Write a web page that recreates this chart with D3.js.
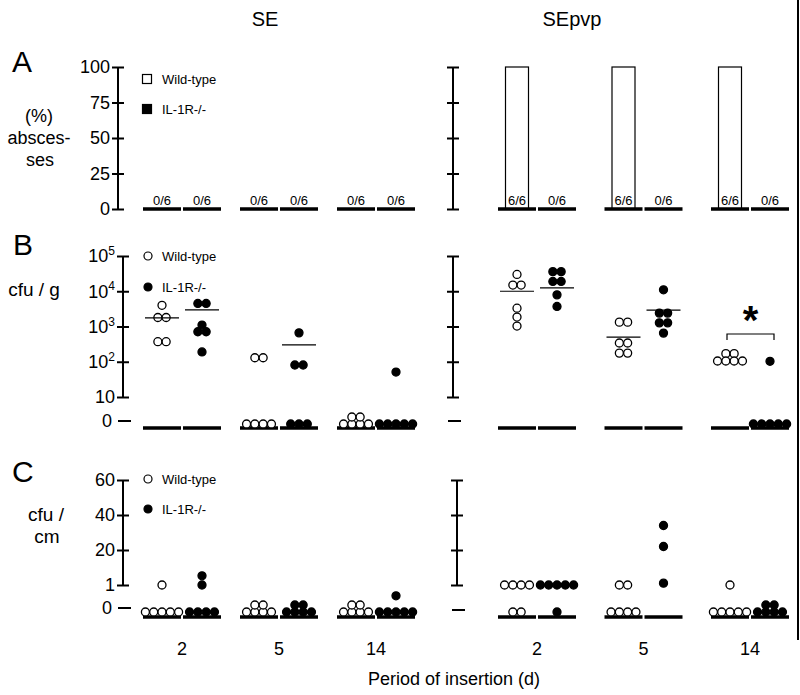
<!DOCTYPE html>
<html>
<head>
<meta charset="utf-8">
<script src="https://cdn.jsdelivr.net/npm/d3@7"></script>
<style>
body { margin: 0; background: #fff; }
svg { font-family: "Liberation Sans", Arial, sans-serif; }
</style>
</head>
<body>
<div id="chart"></div>
<script>
// categories
const days = ["2", "5", "14"];
const genotypes = ["Wild-type", "IL-1R-/-"];

// Panel A: % abscesses
const absSEwt = [0, 0, 0];
const absSEko = [0, 0, 0];
const absPvpWt = [100, 100, 100];
const absPvpKo = [0, 0, 0];
const fracSEwt = ["0/6", "0/6", "0/6"];
const fracSEko = ["0/6", "0/6", "0/6"];
const fracPvpWt = ["6/6", "6/6", "6/6"];
const fracPvpKo = ["0/6", "0/6", "0/6"];
const ticksA = [0, 25, 50, 75, 100];

// Panel B: cfu / g (one array of animals per day)
const cfuGSEwt = [[4000, 1800, 1800, 370, 370], [130, 130, 0, 0, 0, 0], [0, 0, 0, 0, 0, 0]];
const cfuGSEko = [[4500, 4500, 1100, 710, 710, 190], [660, 81, 81, 0, 0, 0], [51, 0, 0, 0, 0, 0]];
const cfuGPvpWt = [[30000, 15000, 15000, 3300, 1850, 1030], [1330, 1330, 340, 340, 176, 176], [170, 170, 105, 105, 105, 105]];
const cfuGPvpKo = [[36000, 36000, 19000, 19000, 7900, 3700], [11000, 2400, 2400, 1270, 1270, 650], [103, 0, 0, 0, 0, 0]];
const meanGSEwt = [1750, null, null];
const meanGSEko = [2950, 300, null];
const meanGPvpWt = [10000, 500, null];
const meanGPvpKo = [12500, 2900, null];
const ticksB = [10, 100, 1000, 10000, 100000];

// Panel C: cfu / cm
const cfuCmSEwt = [[1, 0, 0, 0, 0, 0], [0, 0, 0, 0, 0, 0], [0, 0, 0, 0, 0, 0]];
const cfuCmSEko = [[6, 1, 0, 0, 0, 0], [0, 0, 0, 0, 0, 0], [0.6, 0, 0, 0, 0, 0]];
const cfuCmPvpWt = [[1, 1, 1, 1, 0, 0], [1, 1, 0, 0, 0, 0], [1, 0, 0, 0, 0, 0]];
const cfuCmPvpKo = [[1, 1, 1, 1, 1, 0], [34, 22, 2], [0, 0, 0, 0, 0, 0]];
const ticksC = [1, 20, 40, 60];

const W = 800, H = 695;
const FONT = "'Liberation Sans', Arial, sans-serif";

const svg = d3.select("#chart").append("svg")
    .attr("width", W)
    .attr("height", H);

// x scales: one per side, plus genotype offset
const xSE = d3.scalePoint().domain(days).range([182, 376]);
const xPvp = d3.scalePoint().domain(days).range([537, 750]);
const gOff = d3.scaleOrdinal().domain(genotypes).range([-20, 20]);
const segHalf = 19;

// y scales
const yA = d3.scaleLinear().domain([0, 100]).range([209, 67]);
const yBlog = d3.scaleLog().domain([10, 1e5]).range([397, 256]);
const zeroB = 424;
const yB = v => v > 0 ? yBlog(v) : zeroB;
const yC = d3.scaleLinear().domain([0, 1, 20, 40, 60]).range([612, 585, 550, 515, 480]);

const baseA = 209, baseB = 428, baseC = 617;

function txt(x, y, s, size, anchor) {
    return svg.append("text")
        .attr("x", x).attr("y", y)
        .attr("font-size", size)
        .attr("text-anchor", anchor || "start")
        .attr("fill", "#000")
        .text(s);
}

// titles
txt(265, 26, "SE", 20, "middle");
txt(572, 26, "SEpvp", 20, "middle");
txt(12, 72, "A", 30);
txt(13, 255, "B", 30);
txt(12, 482, "C", 30);

txt(39, 122, "(%)", 18, "middle");
txt(39, 144, "absces-", 18, "middle");
txt(40, 166, "ses", 18, "middle");
txt(34, 296, "cfu / g", 19, "middle");
txt(46, 521, "cfu /", 19, "middle");
txt(47, 543, "cm", 19, "middle");

// y axis with ticks crossing the line
function yAxis(x, scale, ticks, labels) {
    const g = svg.append("g").attr("transform", "translate(" + (x + 6) + ",0)");
    g.call(d3.axisLeft(scale).tickValues(ticks).tickSize(12).tickSizeOuter(0).tickPadding(2)
        .tickFormat(labels ? d3.format("d") : ""));
    g.select(".domain").remove();
    g.selectAll(".tick line").attr("stroke", "#000").attr("stroke-width", 2);
    g.selectAll(".tick text").attr("font-size", 18).attr("fill", "#000").attr("font-family", FONT);
    svg.append("line")
        .attr("x1", x).attr("x2", x)
        .attr("y1", scale(ticks[0])).attr("y2", scale(ticks[ticks.length - 1]))
        .attr("stroke", "#000").attr("stroke-width", 2);
    return g;
}

function zeroTick(x, y, label) {
    svg.append("line")
        .attr("x1", x - 5).attr("x2", x + 8)
        .attr("y1", y).attr("y2", y)
        .attr("stroke", "#000").attr("stroke-width", 2);
    if (label) txt(x - 11, y + 6, "0", 18, "end");
}

yAxis(118, yA, ticksA, true);
yAxis(453, yA, ticksA, false);

const axB = yAxis(123, yBlog, ticksB, true);
axB.selectAll(".tick text").each(function(d) {
    const t = d3.select(this);
    const e = Math.round(Math.log10(d));
    t.text("");
    t.append("tspan").text("10");
    if (e > 1) t.append("tspan").attr("dy", "-0.6em").attr("font-size", 12).text(e);
});
yAxis(453, yBlog, ticksB, false);
zeroTick(123, 421, true);
zeroTick(453, 421, false);

yAxis(123, yC, ticksC, true);
yAxis(457, yC, ticksC, false);
zeroTick(123, 608, true);
zeroTick(457, 610, false);

// legends
function legend(y1, y2, shape) {
    [[y1, "#fff", genotypes[0]], [y2, "#000", genotypes[1]]].forEach(([y, f, s]) => {
        if (shape === "square") {
            svg.append("rect").attr("x", 142.5).attr("y", y - 4.5).attr("width", 9).attr("height", 9)
                .attr("fill", f).attr("stroke", "#000").attr("stroke-width", 1.2);
        } else {
            svg.append("circle").attr("cx", 148).attr("cy", y).attr("r", 4)
                .attr("fill", f).attr("stroke", "#000").attr("stroke-width", 1.2);
        }
        txt(162, y + 5, s, 13);
    });
}
legend(79, 109, "square");
legend(256, 287, "circle");
legend(479, 509, "circle");

// base segments for every group
function baseLines(xs, y) {
    days.forEach(d => genotypes.forEach(gt => {
        const cx = xs(d) + gOff(gt);
        svg.append("line")
            .attr("x1", cx - segHalf).attr("x2", cx + segHalf)
            .attr("y1", y).attr("y2", y)
            .attr("stroke", "#000").attr("stroke-width", 3.5);
    }));
}

// Panel A bars
function barsA(xs, wt, ko, fwt, fko) {
    [[genotypes[0], wt, fwt], [genotypes[1], ko, fko]].forEach(([gt, vals, fr]) => {
        days.forEach((d, i) => {
            const cx = xs(d) + gOff(gt);
            if (vals[i] > 0) {
                svg.append("rect")
                    .attr("x", cx - 11.5).attr("width", 23)
                    .attr("y", yA(vals[i])).attr("height", yA(0) - yA(vals[i]))
                    .attr("fill", "#fff").attr("stroke", "#000").attr("stroke-width", 1.2);
            }
            txt(cx, 205, fr[i], 13, "middle");
        });
    });
}
barsA(xSE, absSEwt, absSEko, fracSEwt, fracSEko);
barsA(xPvp, absPvpWt, absPvpKo, fracPvpWt, fracPvpKo);
baseLines(xSE, baseA);
baseLines(xPvp, baseA);

// dot layout: identical values side by side, more than five stack 4 + rest
function layout(vals, cx, yf) {
    const pts = [];
    d3.groups(vals, v => v).forEach(([v, arr]) => {
        const n = arr.length;
        const rows = n <= 5 ? [n] : [4, n - 4];
        rows.forEach((m, ri) => {
            for (let i = 0; i < m; i++) {
                pts.push({ x: cx + (i - (m - 1) / 2) * 8.3, y: yf(v) - ri * 7 });
            }
        });
    });
    return pts;
}

function dots(xs, wt, ko, yf, mwt, mko) {
    [[genotypes[0], wt, "#fff", mwt], [genotypes[1], ko, "#000", mko]].forEach(([gt, groups, fill, means]) => {
        days.forEach((d, i) => {
            const cx = xs(d) + gOff(gt);
            const pts = layout(groups[i], cx, yf);
            svg.append("g").selectAll("circle")
                .data(pts)
                .enter()
                .append("circle")
                .attr("cx", p => p.x)
                .attr("cy", p => p.y)
                .attr("r", 4)
                .attr("fill", fill)
                .attr("stroke", "#000")
                .attr("stroke-width", 1.3);
            if (means && means[i] != null) {
                svg.append("line")
                    .attr("x1", cx - 17).attr("x2", cx + 17)
                    .attr("y1", yf(means[i])).attr("y2", yf(means[i]))
                    .attr("stroke", "#000").attr("stroke-width", 1.2);
            }
        });
    });
}

baseLines(xSE, baseB);
baseLines(xPvp, baseB);
dots(xSE, cfuGSEwt, cfuGSEko, yB, meanGSEwt, meanGSEko);
dots(xPvp, cfuGPvpWt, cfuGPvpKo, yB, meanGPvpWt, meanGPvpKo);

baseLines(xSE, baseC);
baseLines(xPvp, baseC);
dots(xSE, cfuCmSEwt, cfuCmSEko, yC, null, null);
dots(xPvp, cfuCmPvpWt, cfuCmPvpKo, yC, null, null);

// significance bracket, day 14 SEpvp
const bx1 = xPvp("14") + gOff(genotypes[0]) - 3;
const bx2 = xPvp("14") + gOff(genotypes[1]) + 4;
svg.append("path")
    .attr("d", "M" + bx1 + ",340V334H" + bx2 + "V340")
    .attr("fill", "none").attr("stroke", "#000").attr("stroke-width", 1.2);
txt((bx1 + bx2) / 2, 334, "*", 40, "middle").attr("font-weight", "bold");

// x labels
days.forEach(d => {
    txt(xSE(d), 655, d, 18, "middle");
    txt(xPvp(d), 655, d, 18, "middle");
});
txt(454, 685, "Period of insertion (d)", 18, "middle");

// right border of the figure
svg.append("line")
    .attr("x1", 798).attr("x2", 798)
    .attr("y1", 0).attr("y2", 640)
    .attr("stroke", "#000").attr("stroke-width", 2);
</script>
</body>
</html>
